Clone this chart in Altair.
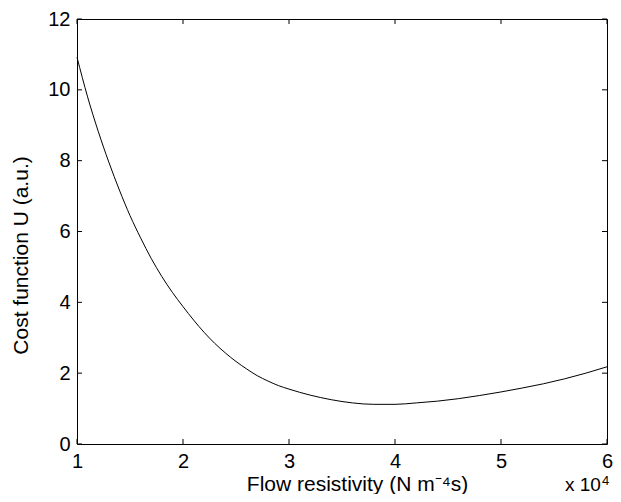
import altair as alt
import pandas as pd

# Flow resistivity (x 10^4 N m^-4 s) and cost function U (a.u.)
flow = [1.0, 1.1, 1.2, 1.3, 1.4, 1.5, 1.6, 1.7, 1.8, 1.9, 2.0, 2.1, 2.2, 2.3, 2.4, 2.5,
        2.6, 2.7, 2.8, 2.9, 3.0, 3.2, 3.4, 3.6, 3.8, 4.0, 4.2, 4.4, 4.6, 4.8, 5.0,
        5.2, 5.4, 5.6, 5.8, 6.0]
cost = [10.92, 9.80, 8.83, 7.96, 7.17, 6.45, 5.82, 5.24, 4.73, 4.28, 3.88, 3.50, 3.15, 2.84, 2.57, 2.33,
        2.12, 1.93, 1.78, 1.65, 1.55, 1.38, 1.25, 1.16, 1.12, 1.12, 1.16, 1.21, 1.28, 1.37, 1.47,
        1.58, 1.70, 1.84, 2.0, 2.18]

x_ticks = [1, 2, 3, 4, 5, 6]
y_ticks = [0, 2, 4, 6, 8, 10, 12]

W, H = 530, 425
FONT = "Liberation Sans"
LFS = 20
TFS = 21

df = pd.DataFrame({"x": flow, "y": cost})
xt = pd.DataFrame({"x": x_ticks})
yt = pd.DataFrame({"y": y_ticks})

xscale = alt.Scale(domain=[1, 6], nice=False, zero=False)
yscale = alt.Scale(domain=[0, 12], nice=False, zero=False)

xaxis = alt.Axis(
    values=x_ticks, format="d", ticks=False, domain=False, grid=False,
    labelFont=FONT, labelFontSize=LFS, labelColor="black", labelPadding=7, labelFlush=False,
    title="Flow resistivity (N m⁻⁴s)", titleFont=FONT, titleFontSize=TFS,
    titleFontWeight="normal", titleColor="black",
    titleX=280, titleY=46, titleAlign="center", titleBaseline="alphabetic")
yaxis = alt.Axis(
    values=y_ticks, format="d", ticks=False, domain=False, grid=False,
    labelFont=FONT, labelFontSize=LFS, labelColor="black", labelPadding=7, labelFlush=False,
    title="Cost function U (a.u.)", titleFont=FONT, titleFontSize=TFS,
    titleFontWeight="normal", titleColor="black", titleAngle=270,
    titleX=-56, titleY=236, titleAlign="center", titleBaseline="middle")

X = alt.X("x:Q", scale=xscale, axis=xaxis, title="Flow resistivity (N m⁻⁴s)")
Y = alt.Y("y:Q", scale=yscale, axis=yaxis, title="Cost function U (a.u.)")

line = alt.Chart(df).mark_line(color="black", strokeWidth=1, interpolate="monotone").encode(x=X, y=Y)

tx_bottom = alt.Chart(xt).mark_rule(color="black", strokeWidth=1).encode(
    x=X, y=alt.value(H), y2=alt.value(H - 5))
tx_top = alt.Chart(xt).mark_rule(color="black", strokeWidth=1).encode(
    x=X, y=alt.value(0), y2=alt.value(5))
ty_left = alt.Chart(yt).mark_rule(color="black", strokeWidth=1).encode(
    y=Y, x=alt.value(0), x2=alt.value(5))
ty_right = alt.Chart(yt).mark_rule(color="black", strokeWidth=1).encode(
    y=Y, x=alt.value(W), x2=alt.value(W - 5))

mult = alt.Chart(pd.DataFrame({"a": [0]})).mark_text(
    align="left", baseline="alphabetic", font=FONT, fontSize=19, color="black").encode(
    x=alt.value(488), y=alt.value(472), text=alt.value("x 10"))
mult_exp = alt.Chart(pd.DataFrame({"a": [0]})).mark_text(
    align="left", baseline="alphabetic", font=FONT, fontSize=13, color="black").encode(
    x=alt.value(525), y=alt.value(466), text=alt.value("4"))

chart = alt.layer(line, tx_bottom, tx_top, ty_left, ty_right, mult, mult_exp).properties(
    width=W, height=H,
    autosize=alt.AutoSizeParams(type="none"),
    padding={"left": 69, "top": 11, "right": 6, "bottom": 50},
    background="white",
).configure_view(stroke="black", strokeWidth=1)

chart.save("out.html", embed_options={"renderer": "svg", "actions": False})
